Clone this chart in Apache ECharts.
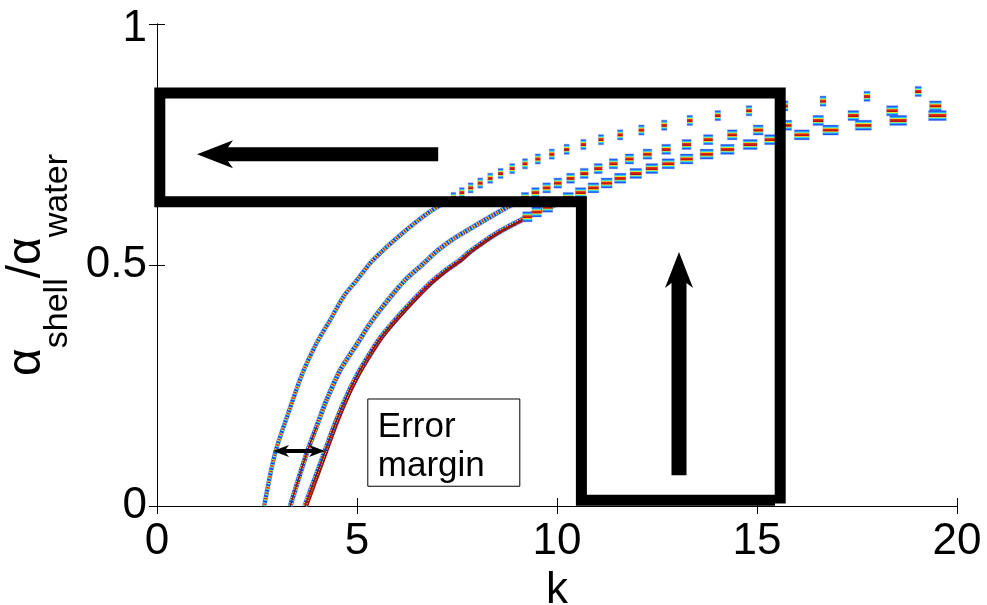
<!DOCTYPE html>
<html>
<head>
<meta charset="utf-8">
<script src="https://cdn.jsdelivr.net/npm/echarts@6/dist/echarts.min.js"></script>
<style>
  html, body { margin: 0; padding: 0; background: #fff; }
  #chart { width: 987px; height: 605px; }
</style>
</head>
<body>
<div id="chart"></div>
<script>
// ---- data: attenuation ratio alpha_shell / alpha_water versus k ----
const kTicks = [0, 5, 10, 15, 20];
const ratioTicks = [0, 0.5, 1];

// steep rising part of the three ridges, [k, ratio]
const rise1 = [[2.68, 0.000], [2.95, 0.109], [3.28, 0.192], [3.62, 0.272], [3.99, 0.338], [4.33, 0.386],
  [4.66, 0.434], [5.03, 0.472], [5.33, 0.504], [5.66, 0.531], [6.08, 0.562], [6.49, 0.590],
  [6.83, 0.611], [7.41, 0.640]];
const rise2 = [[3.33, 0.000], [3.74, 0.109], [3.99, 0.165], [4.24, 0.220], [4.58, 0.282], [5.00, 0.336],
  [5.33, 0.379], [5.58, 0.407], [5.91, 0.441], [6.24, 0.472], [6.62, 0.500], [7.03, 0.531],
  [7.37, 0.552], [7.70, 0.569], [8.50, 0.608], [9.20, 0.640]];
const rise3 = [[3.70, 0.000], [4.20, 0.113], [4.49, 0.178], [4.78, 0.234], [5.03, 0.275], [5.20, 0.299],
  [5.58, 0.348], [5.99, 0.389], [6.41, 0.427], [6.83, 0.462], [7.24, 0.490], [7.58, 0.510],
  [7.83, 0.528], [8.50, 0.566], [9.26, 0.600], [9.49, 0.611], [9.77, 0.618], [10.28, 0.640]];

// flat part: one cell per ratio level
const levels1 = [0.64, 0.65, 0.66, 0.67, 0.68, 0.69, 0.70, 0.71, 0.72, 0.73, 0.74, 0.75, 0.76, 0.77,
  0.78, 0.79, 0.80, 0.81, 0.82, 0.83, 0.84, 0.85, 0.86];
const cellK1 = [7.41, 7.62, 7.84, 8.08, 8.33, 8.59, 8.88, 9.20, 9.52, 9.87, 10.24, 10.66, 11.10, 11.58,
  12.11, 12.68, 13.32, 14.02, 14.80, 15.70, 16.65, 17.75, 19.03];
const levels2 = [0.64, 0.65, 0.66, 0.67, 0.68, 0.69, 0.70, 0.71, 0.72, 0.73, 0.74, 0.75, 0.76, 0.77,
  0.78, 0.79, 0.80, 0.81, 0.82, 0.83];
const cellK2 = [9.20, 9.46, 9.74, 10.02, 10.34, 10.68, 11.03, 11.41, 11.81, 12.26, 12.73, 13.24, 13.78,
  14.38, 15.03, 15.74, 16.53, 17.41, 18.38, 19.46];
const levels3 = [0.60, 0.61, 0.62, 0.64, 0.65, 0.66, 0.67, 0.68, 0.69, 0.70, 0.71, 0.72, 0.73, 0.74,
  0.75, 0.76, 0.77, 0.78, 0.79, 0.80, 0.81];
const cellK3 = [9.26, 9.49, 9.77, 10.28, 10.59, 10.91, 11.24, 11.58, 11.97, 12.37, 12.78, 13.24, 13.74,
  14.26, 14.83, 15.37, 16.12, 16.84, 17.66, 18.53, 19.51];

// annotations
const outlinePath = [[15.58, 0.005], [15.58, 0.857], [0.07, 0.857], [0.07, 0.631], [10.61, 0.631],
  [10.61, 0.012], [15.45, 0.012]];
const arrowLeft = [7.03, 0.730, 1.00, 0.730];   // tail k, tail ratio, tip k, tip ratio
const arrowUp = [13.05, 0.064, 13.05, 0.527];
const marginArrow = [2.90, 0.114, 4.20, 0.114];
const marginBox = [5.27, 0.222, 9.07, 0.041];   // left, top, right, bottom
const marginText = 'Error\nmargin';

// ---- drawing ----
const FONT = '"Liberation Sans", Arial, Helvetica, sans-serif';
const chart = echarts.init(document.getElementById('chart'), null, { renderer: 'canvas' });

function pairs(ks, rs) { return ks.map((k, i) => [k, rs[i]]); }

// jet-like vertical banding of a single ridge cell
const cellFill = new echarts.graphic.LinearGradient(0, 0, 0, 1, [
  { offset: 0.00, color: '#0a28e0' },
  { offset: 0.14, color: '#1c64ff' },
  { offset: 0.25, color: '#2ed8f0' },
  { offset: 0.34, color: '#e6ee26' },
  { offset: 0.40, color: '#e83010' },
  { offset: 0.60, color: '#b80c0c' },
  { offset: 0.66, color: '#eae628' },
  { offset: 0.75, color: '#2ed8f0' },
  { offset: 0.86, color: '#1c64ff' },
  { offset: 1.00, color: '#0a28e0' }
]);

// a ridge drawn as a banded, speckled stroke (blue / cyan / yellow / red repeating along the path)
function riseLayers(data, width) {
  const base = { type: 'line', data: data, symbol: 'none', smooth: 0.3,
    silent: true, animation: false, z: 2 };
  return [
    Object.assign({}, base, { lineStyle: { color: 'rgba(160,185,240,0.4)', width: width + 1.5 } }),
    Object.assign({}, base, { lineStyle: { color: '#1a36ee', width: width } }),
    Object.assign({}, base, { lineStyle: { color: '#2ed4f0', width: width - 0.5, type: [4, 1.5], dashOffset: 0 } }),
    Object.assign({}, base, { lineStyle: { color: '#ece624', width: width - 0.8, type: [2.6, 2.9], dashOffset: 4.7 } }),
    Object.assign({}, base, { lineStyle: { color: '#d41810', width: width - 1, type: [1.4, 4.1], dashOffset: 4.1 } })
  ];
}

function cells(data, widthOf) {
  return {
    type: 'scatter', data: data, symbol: 'rect', silent: true, animation: false, z: 3,
    symbolSize: v => [widthOf(v[0]), 10],
    itemStyle: { color: cellFill, borderColor: 'rgba(110,140,225,0.35)', borderWidth: 1, opacity: 1 }
  };
}

function arrowPoints(tail, tip, shaft, headLen, headWid, notch, both) {
  const dx = tip[0] - tail[0], dy = tip[1] - tail[1];
  const L = Math.hypot(dx, dy);
  const ux = dx / L, uy = dy / L, nx = -uy, ny = ux;
  const P = (p, a, b) => [p[0] + ux * a + nx * b, p[1] + uy * a + ny * b];
  const pts = [];
  if (both) {
    pts.push(tail, P(tail, headLen, headWid / 2), P(tail, headLen - notch, shaft / 2));
  } else {
    pts.push(P(tail, 0, shaft / 2));
  }
  pts.push(P(tip, -(headLen - notch), shaft / 2), P(tip, -headLen, headWid / 2), tip,
    P(tip, -headLen, -headWid / 2), P(tip, -(headLen - notch), -shaft / 2));
  if (both) {
    pts.push(P(tail, headLen - notch, -shaft / 2), P(tail, headLen, -headWid / 2));
  } else {
    pts.push(P(tail, 0, -shaft / 2));
  }
  return pts;
}

function arrowSeries(a, dims, both) {
  return {
    type: 'custom', data: [a], silent: true, animation: false, z: 6,
    encode: { x: [0, 2], y: [1, 3] },
    renderItem: (params, api) => {
      const p0 = api.coord([api.value(0), api.value(1)]);
      const p1 = api.coord([api.value(2), api.value(3)]);
      return { type: 'polygon', shape: { points: arrowPoints(p0, p1, dims[0], dims[1], dims[2], dims[3], both) },
        style: { fill: '#000' } };
    }
  };
}

const series = [].concat(
  riseLayers(rise1, 4),
  riseLayers(rise2, 4.5),
  riseLayers(rise3, 5),
  [{
    type: 'line', data: rise3.slice(0, 16), symbol: 'none', smooth: 0.3, silent: true,
    animation: false, z: 2,
    lineStyle: { color: '#9a0e0e', width: 1.5, shadowColor: '#9a0e0e', shadowOffsetX: 2.5, shadowBlur: 0 }
  }, {
    type: 'line', data: rise2.slice(0, 3), symbol: 'none', smooth: 0.3, silent: true, animation: false, z: 2,
    lineStyle: { color: '#9a0e0e', width: 1.2 }
  }],
  [
    cells(pairs(cellK1, levels1), k => 4 + 0.12 * k),
    cells(pairs(cellK2, levels2), k => 3.5 + 0.42 * k),
    cells(pairs(cellK3, levels3), k => 2 + 0.8 * k)
  ],
  [{
    type: 'line', data: outlinePath, symbol: 'none', silent: true, animation: false, clip: false, z: 5,
    lineStyle: { color: '#000', width: 11, join: 'miter', cap: 'butt' }
  }],
  [
    arrowSeries(arrowLeft, [14, 36, 28, 5], false),
    arrowSeries(arrowUp, [15, 36, 28, 5], false),
    arrowSeries(marginArrow, [4, 16, 12, 3], true),
    {
      type: 'custom', data: [marginBox], silent: true, animation: false, z: 6,
      encode: { x: [0, 2], y: [1, 3] },
      renderItem: (params, api) => {
        const tl = api.coord([api.value(0), api.value(1)]);
        const br = api.coord([api.value(2), api.value(3)]);
        return {
          type: 'group',
          children: [
            { type: 'rect', shape: { x: tl[0], y: tl[1], width: br[0] - tl[0], height: br[1] - tl[1] },
              style: { fill: '#fff', stroke: '#000', lineWidth: 1 } },
            { type: 'text', x: tl[0] + 10, y: tl[1] + 9,
              style: { text: marginText, fill: '#000', fontSize: 35, fontFamily: FONT, lineHeight: 39,
                align: 'left', verticalAlign: 'top' } }
          ]
        };
      }
    }
  ]
);

const axisLine = { show: true, lineStyle: { color: '#000', width: 1 } };
const tick = { show: true, inside: true, length: 8, lineStyle: { color: '#000', width: 1 } };

chart.setOption({
  animation: false,
  backgroundColor: '#fff',
  grid: { left: 157, right: 30, top: 24, bottom: 99, containLabel: false, outerBoundsMode: 'none' },
  xAxis: [{
    type: 'value', position: 'bottom', min: kTicks[0], max: kTicks[kTicks.length - 1], interval: kTicks[1] - kTicks[0],
    axisLine: axisLine, axisTick: tick, splitLine: { show: false },
    axisLabel: { color: '#000', fontSize: 44, fontFamily: FONT, margin: 14 },
    name: 'k', nameLocation: 'middle', nameGap: 58,
    nameTextStyle: { color: '#000', fontSize: 44, fontFamily: FONT }
  }, {
    type: 'value', position: 'top', min: kTicks[0], max: kTicks[kTicks.length - 1], interval: kTicks[1] - kTicks[0],
    axisLine: axisLine, axisTick: tick, axisLabel: { show: false }, splitLine: { show: false }
  }],
  yAxis: [{
    type: 'value', position: 'left', min: ratioTicks[0], max: ratioTicks[ratioTicks.length - 1],
    interval: ratioTicks[1] - ratioTicks[0],
    axisLine: axisLine, axisTick: tick, splitLine: { show: false },
    axisLabel: {
      color: '#000', fontSize: 44, fontFamily: FONT, margin: 10,
      formatter: v => (v === 1 ? '{top|1}' : String(v)),
      rich: { top: { fontSize: 44, fontFamily: FONT, color: '#000', padding: [10, 0, 0, 0] } }
    },
    name: '{m|α}{s|shell}{m|/α}{s|water}', nameLocation: 'middle', nameRotate: 90, nameGap: 79,
    nameTextStyle: {
      color: '#000', fontFamily: FONT,
      rich: {
        m: { fontSize: 48, fontFamily: FONT, color: '#000', verticalAlign: 'bottom', padding: [0, 0, 24, 0] },
        s: { fontSize: 34, fontFamily: FONT, color: '#000', verticalAlign: 'bottom' }
      }
    }
  }, {
    type: 'value', position: 'right', min: ratioTicks[0], max: ratioTicks[ratioTicks.length - 1],
    interval: ratioTicks[1] - ratioTicks[0],
    axisLine: axisLine, axisTick: tick, axisLabel: { show: false }, splitLine: { show: false }
  }],
  series: series
});
</script>
</body>
</html>
